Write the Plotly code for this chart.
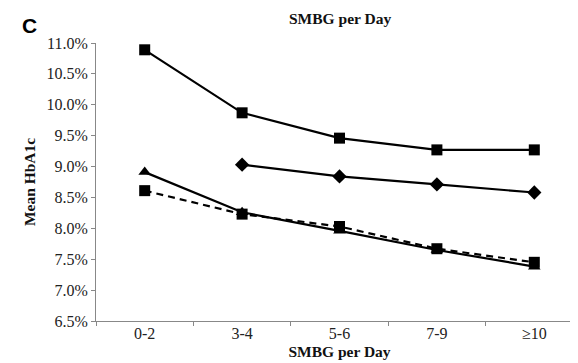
import plotly.graph_objects as go

categories = ["0-2", "3-4", "5-6", "7-9", "≥10"]
series_top_squares = [10.89, 9.87, 9.46, 9.27, 9.27]
series_diamonds = [None, 9.03, 8.84, 8.71, 8.58]
series_triangles = [8.91, 8.26, 7.96, 7.65, 7.38]
series_dashed_squares = [8.61, 8.23, 8.03, 7.67, 7.45]
y_ticks = [6.5, 7.0, 7.5, 8.0, 8.5, 9.0, 9.5, 10.0, 10.5, 11.0]

fig = go.Figure()
fig.add_trace(go.Scatter(x=categories, y=series_top_squares, mode="lines+markers",
                         line=dict(color="black", width=2.2),
                         marker=dict(symbol="square", size=11, color="black")))
fig.add_trace(go.Scatter(x=categories, y=series_diamonds, mode="lines+markers",
                         line=dict(color="black", width=2.2),
                         marker=dict(symbol="diamond", size=11, color="black")))
fig.add_trace(go.Scatter(x=categories, y=series_triangles, mode="lines+markers",
                         line=dict(color="black", width=2.2),
                         marker=dict(symbol="triangle-up", size=11, color="black")))
fig.add_trace(go.Scatter(x=categories, y=series_dashed_squares, mode="lines+markers",
                         line=dict(color="black", width=2.2, dash="7px,5px"),
                         marker=dict(symbol="square", size=11, color="black")))

font_family = "Liberation Serif"
fig.update_layout(
    width=578, height=363,
    margin=dict(l=88, r=3, t=35, b=50),
    paper_bgcolor="white", plot_bgcolor="white",
    showlegend=False,
    font=dict(family=font_family, size=16, color="#222"),
    xaxis=dict(
        type="category", range=[-0.5, 4.5],
        showline=True, linecolor="#888", linewidth=1,
        ticks="outside", ticklen=4, tickcolor="#888", tickson="boundaries",
        showgrid=False, zeroline=False, ticklabelstandoff=-2,
        tickfont=dict(family=font_family, size=16, color="#222"),
        title=dict(text="<b>SMBG per Day</b>", standoff=4,
                   font=dict(family=font_family, size=15.5, color="#111")),
    ),
    yaxis=dict(
        range=[6.5, 11.0], tickvals=y_ticks,
        ticktext=[f"{v:.1f}%" for v in y_ticks],
        showline=True, linecolor="#888", linewidth=1,
        ticks="outside", ticklen=4, tickcolor="#888",
        showgrid=False, zeroline=False,
        tickfont=dict(family=font_family, size=16, color="#222"),
        title=dict(text="<b>Mean HbA1c</b>", standoff=7,
                   font=dict(family=font_family, size=15.5, color="#111")),
    ),
)
fig.add_annotation(text="<b>C</b>", xref="paper", yref="paper", x=-0.156, y=1.062,
                   xanchor="left", yanchor="middle", showarrow=False,
                   font=dict(family="Liberation Sans", size=21, color="black"))
fig.add_annotation(text="<b>SMBG per Day</b>", xref="paper", yref="paper", x=0.5, y=1.0,
                   yshift=35, xanchor="center", yanchor="top", showarrow=False,
                   font=dict(family=font_family, size=15.5, color="#111"))

fig.write_html("out.html")
